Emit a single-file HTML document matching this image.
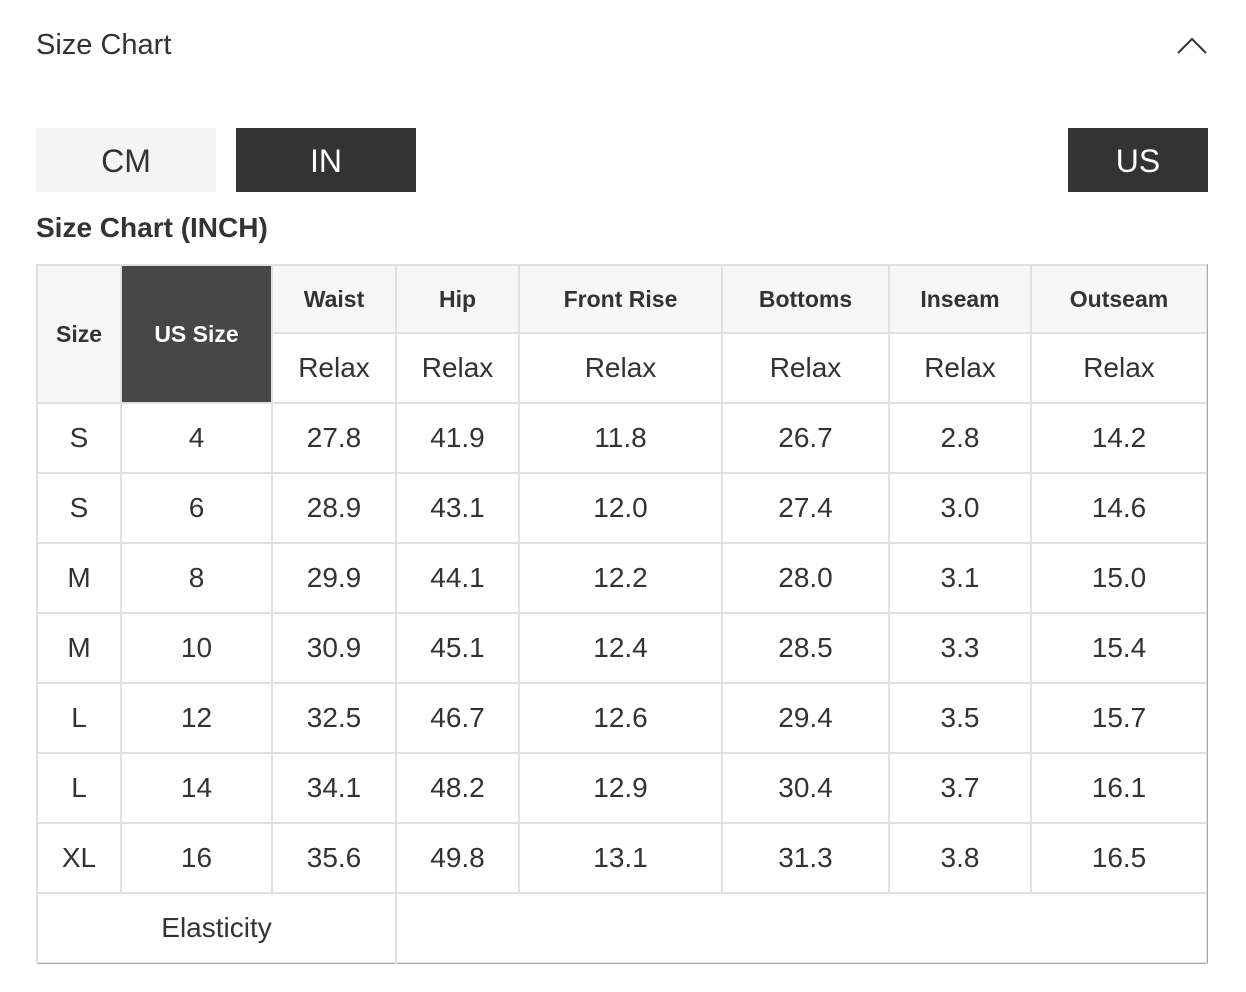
<!DOCTYPE html>
<html><head><meta charset="utf-8"><style>
*{margin:0;padding:0;box-sizing:border-box}
body{width:1246px;height:992px;background:#fff;position:relative;overflow:hidden;font-family:"Liberation Sans",Arial,sans-serif;color:#333}
.a{position:absolute}
.t{position:absolute;display:flex;align-items:center;justify-content:center;font-size:28px;color:#333}
.b{font-weight:bold;font-size:23px}
.h{position:absolute;height:2px;background:#e0e0e0}
.v{position:absolute;width:2px;background:#e0e0e0}
</style></head><body>
<div class="a" style="left:36px;top:27px;font-size:29px;line-height:36px;color:#333">Size Chart</div>
<svg class="a" style="left:1176px;top:34px" width="34" height="22"><polyline points="2,19 16,5 30,19" fill="none" stroke="#333" stroke-width="2"/></svg>
<div class="t" style="left:36px;top:128px;width:180px;height:64px;background:#f4f4f4;font-size:32px;padding-top:2px">CM</div>
<div class="t" style="left:236px;top:128px;width:180px;height:64px;background:#333;color:#fff;font-size:32px;padding-top:2px">IN</div>
<div class="t" style="left:1068px;top:128px;width:140px;height:64px;background:#333;color:#fff;font-size:32px;padding-top:2px">US</div>
<div class="a" style="left:36px;top:211px;font-size:28px;font-weight:bold;line-height:34px">Size Chart (INCH)</div>

<!-- backgrounds -->
<div class="a" style="left:38px;top:266px;width:82px;height:136px;background:#f7f7f7"></div>
<div class="a" style="left:122px;top:266px;width:149px;height:136px;background:#464646"></div>
<div class="a" style="left:273px;top:266px;width:933px;height:66px;background:#f7f7f7"></div>

<!-- horizontal lines -->
<div class="h" style="left:36px;top:264px;width:1172px"></div>
<div class="h" style="left:271px;top:332px;width:937px"></div>
<div class="h" style="left:36px;top:402px;width:1172px"></div>
<div class="h" style="left:36px;top:472px;width:1172px"></div>
<div class="h" style="left:36px;top:542px;width:1172px"></div>
<div class="h" style="left:36px;top:612px;width:1172px"></div>
<div class="h" style="left:36px;top:682px;width:1172px"></div>
<div class="h" style="left:36px;top:752px;width:1172px"></div>
<div class="h" style="left:36px;top:822px;width:1172px"></div>
<div class="h" style="left:36px;top:892px;width:1172px"></div>
<div class="h" style="left:36px;top:962px;width:1172px"></div>
<div class="a" style="left:36px;top:963px;width:1172px;height:1px;background:#a8a8a8"></div>
<!-- vertical lines -->
<div class="v" style="left:36px;top:264px;height:700px"></div>
<div class="v" style="left:120px;top:264px;height:630px"></div>
<div class="v" style="left:271px;top:264px;height:630px"></div>
<div class="v" style="left:395px;top:264px;height:700px"></div>
<div class="v" style="left:518px;top:264px;height:630px"></div>
<div class="v" style="left:721px;top:264px;height:630px"></div>
<div class="v" style="left:888px;top:264px;height:630px"></div>
<div class="v" style="left:1030px;top:264px;height:630px"></div>
<div class="v" style="left:1206px;top:264px;height:700px"></div>
<div class="a" style="left:1207px;top:264px;width:1px;height:700px;background:#a8a8a8"></div>

<!-- header -->
<div class="t b" style="left:38px;top:266px;width:82px;height:136px">Size</div>
<div class="t b" style="left:122px;top:266px;width:149px;height:136px;color:#fff">US Size</div>
<div class="t b" style="left:273px;top:266px;width:122px;height:66px">Waist</div>
<div class="t b" style="left:397px;top:266px;width:121px;height:66px">Hip</div>
<div class="t b" style="left:520px;top:266px;width:201px;height:66px">Front Rise</div>
<div class="t b" style="left:723px;top:266px;width:165px;height:66px">Bottoms</div>
<div class="t b" style="left:890px;top:266px;width:140px;height:66px">Inseam</div>
<div class="t b" style="left:1032px;top:266px;width:174px;height:66px">Outseam</div>
<div class="t" style="left:273px;top:334px;width:122px;height:68px">Relax</div>
<div class="t" style="left:397px;top:334px;width:121px;height:68px">Relax</div>
<div class="t" style="left:520px;top:334px;width:201px;height:68px">Relax</div>
<div class="t" style="left:723px;top:334px;width:165px;height:68px">Relax</div>
<div class="t" style="left:890px;top:334px;width:140px;height:68px">Relax</div>
<div class="t" style="left:1032px;top:334px;width:174px;height:68px">Relax</div>

<!-- rows -->
<div class="t" style="left:38px;top:404px;width:82px;height:68px">S</div><div class="t" style="left:122px;top:404px;width:149px;height:68px">4</div><div class="t" style="left:273px;top:404px;width:122px;height:68px">27.8</div><div class="t" style="left:397px;top:404px;width:121px;height:68px">41.9</div><div class="t" style="left:520px;top:404px;width:201px;height:68px">11.8</div><div class="t" style="left:723px;top:404px;width:165px;height:68px">26.7</div><div class="t" style="left:890px;top:404px;width:140px;height:68px">2.8</div><div class="t" style="left:1032px;top:404px;width:174px;height:68px">14.2</div>
<div class="t" style="left:38px;top:474px;width:82px;height:68px">S</div><div class="t" style="left:122px;top:474px;width:149px;height:68px">6</div><div class="t" style="left:273px;top:474px;width:122px;height:68px">28.9</div><div class="t" style="left:397px;top:474px;width:121px;height:68px">43.1</div><div class="t" style="left:520px;top:474px;width:201px;height:68px">12.0</div><div class="t" style="left:723px;top:474px;width:165px;height:68px">27.4</div><div class="t" style="left:890px;top:474px;width:140px;height:68px">3.0</div><div class="t" style="left:1032px;top:474px;width:174px;height:68px">14.6</div>
<div class="t" style="left:38px;top:544px;width:82px;height:68px">M</div><div class="t" style="left:122px;top:544px;width:149px;height:68px">8</div><div class="t" style="left:273px;top:544px;width:122px;height:68px">29.9</div><div class="t" style="left:397px;top:544px;width:121px;height:68px">44.1</div><div class="t" style="left:520px;top:544px;width:201px;height:68px">12.2</div><div class="t" style="left:723px;top:544px;width:165px;height:68px">28.0</div><div class="t" style="left:890px;top:544px;width:140px;height:68px">3.1</div><div class="t" style="left:1032px;top:544px;width:174px;height:68px">15.0</div>
<div class="t" style="left:38px;top:614px;width:82px;height:68px">M</div><div class="t" style="left:122px;top:614px;width:149px;height:68px">10</div><div class="t" style="left:273px;top:614px;width:122px;height:68px">30.9</div><div class="t" style="left:397px;top:614px;width:121px;height:68px">45.1</div><div class="t" style="left:520px;top:614px;width:201px;height:68px">12.4</div><div class="t" style="left:723px;top:614px;width:165px;height:68px">28.5</div><div class="t" style="left:890px;top:614px;width:140px;height:68px">3.3</div><div class="t" style="left:1032px;top:614px;width:174px;height:68px">15.4</div>
<div class="t" style="left:38px;top:684px;width:82px;height:68px">L</div><div class="t" style="left:122px;top:684px;width:149px;height:68px">12</div><div class="t" style="left:273px;top:684px;width:122px;height:68px">32.5</div><div class="t" style="left:397px;top:684px;width:121px;height:68px">46.7</div><div class="t" style="left:520px;top:684px;width:201px;height:68px">12.6</div><div class="t" style="left:723px;top:684px;width:165px;height:68px">29.4</div><div class="t" style="left:890px;top:684px;width:140px;height:68px">3.5</div><div class="t" style="left:1032px;top:684px;width:174px;height:68px">15.7</div>
<div class="t" style="left:38px;top:754px;width:82px;height:68px">L</div><div class="t" style="left:122px;top:754px;width:149px;height:68px">14</div><div class="t" style="left:273px;top:754px;width:122px;height:68px">34.1</div><div class="t" style="left:397px;top:754px;width:121px;height:68px">48.2</div><div class="t" style="left:520px;top:754px;width:201px;height:68px">12.9</div><div class="t" style="left:723px;top:754px;width:165px;height:68px">30.4</div><div class="t" style="left:890px;top:754px;width:140px;height:68px">3.7</div><div class="t" style="left:1032px;top:754px;width:174px;height:68px">16.1</div>
<div class="t" style="left:38px;top:824px;width:82px;height:68px">XL</div><div class="t" style="left:122px;top:824px;width:149px;height:68px">16</div><div class="t" style="left:273px;top:824px;width:122px;height:68px">35.6</div><div class="t" style="left:397px;top:824px;width:121px;height:68px">49.8</div><div class="t" style="left:520px;top:824px;width:201px;height:68px">13.1</div><div class="t" style="left:723px;top:824px;width:165px;height:68px">31.3</div><div class="t" style="left:890px;top:824px;width:140px;height:68px">3.8</div><div class="t" style="left:1032px;top:824px;width:174px;height:68px">16.5</div>
<div class="t" style="left:38px;top:894px;width:357px;height:68px">Elasticity</div>
</body></html>
